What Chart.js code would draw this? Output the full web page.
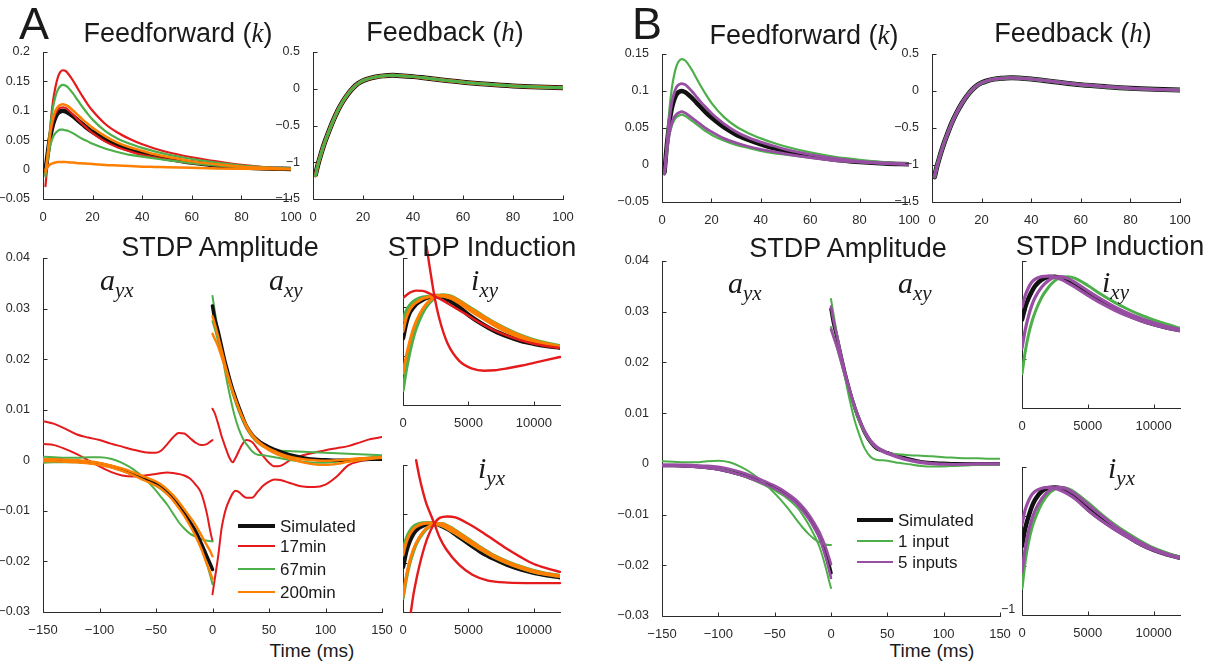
<!DOCTYPE html>
<html><head><meta charset="utf-8">
<script src="https://cdn.jsdelivr.net/npm/chart.js@4"></script>
<style>
html,body{margin:0;padding:0;background:#fff;}
#root{position:relative;width:1216px;height:670px;overflow:hidden;font-family:'Liberation Sans',Arial,sans-serif;color:#1a1a1a;}
.pw{position:absolute;}
.t{position:absolute;white-space:nowrap;line-height:1;z-index:5;}
.ttl{font-size:27px;transform:translateX(-50%);}
.big{font-size:45px;}
.xl{font-size:19px;transform:translateX(-50%);}
.it{font-family:'Liberation Serif','Times New Roman',serif;font-style:italic;}
.sym{font-family:'Liberation Serif','Times New Roman',serif;font-style:italic;font-size:30px;}
.sym span{font-size:21px;position:relative;top:7px;}
.lg{position:absolute;font-size:17px;line-height:1;white-space:nowrap;z-index:5;}
.ll{position:absolute;z-index:5;}
</style></head>
<body><div id="root"></div>
<script>
// ---------------- DATA ----------------
const K_XT = [0,20,40,60,80,100];
const FFA_YT = [-0.05,0,0.05,0.1,0.15,0.2];
const FFB_YT = [-0.05,0,0.05,0.1,0.15];
const FB_YT = [-1.5,-1,-0.5,0,0.5];
const SA_XT = [-150,-100,-50,0,50,100,150];
const SA_YT = [-0.03,-0.02,-0.01,0,0.01,0.02,0.03,0.04];
const I_XT = [0,5000,10000];
const I_YT = [-1,-0.5,0,0.5];

const FF_X = [1,2,3,4,5,6,7,8,9,10,12,14,16,18,20,25,30,35,40,45,50,60,70,80,90,100];
const FFA_SIM  = [-0.003,0.030,0.058,0.077,0.089,0.096,0.099,0.100,0.099,0.097,0.091,0.084,0.077,0.070,0.064,0.051,0.041,0.034,0.028,0.023,0.019,0.012,0.007,0.004,0.002,0.001];
const FFA_17_1 = [-0.028,0.020,0.075,0.115,0.140,0.157,0.166,0.169,0.168,0.164,0.152,0.138,0.124,0.111,0.100,0.078,0.063,0.052,0.043,0.036,0.030,0.021,0.014,0.008,0.004,0.002];
const FFA_17_2 = [-0.010,0.025,0.060,0.082,0.095,0.102,0.105,0.106,0.105,0.102,0.094,0.085,0.077,0.069,0.062,0.048,0.038,0.031,0.025,0.021,0.017,0.011,0.007,0.004,0.002,0.001];
const FFA_67_1 = [-0.012,0.030,0.075,0.105,0.124,0.136,0.142,0.144,0.143,0.140,0.130,0.118,0.106,0.095,0.085,0.066,0.053,0.044,0.037,0.031,0.026,0.018,0.012,0.007,0.004,0.002];
const FFA_67_2 = [-0.008,0.020,0.042,0.055,0.062,0.066,0.068,0.068,0.067,0.066,0.062,0.057,0.052,0.048,0.044,0.036,0.030,0.025,0.022,0.019,0.016,0.011,0.007,0.004,0.002,0.001];
const FFA_200_1 = [-0.005,0.030,0.065,0.087,0.100,0.107,0.110,0.111,0.110,0.108,0.101,0.093,0.085,0.078,0.071,0.057,0.046,0.038,0.032,0.026,0.022,0.014,0.009,0.005,0.003,0.001];
const FFA_200_2 = [0.000,0.005,0.009,0.011,0.012,0.013,0.013,0.013,0.013,0.0125,0.012,0.011,0.0105,0.010,0.0095,0.008,0.007,0.006,0.005,0.0045,0.004,0.003,0.002,0.0015,0.001,0.0005];

const FFB_SIM = [-0.010,0.028,0.057,0.077,0.089,0.096,0.099,0.100,0.099,0.097,0.091,0.084,0.077,0.070,0.064,0.051,0.041,0.034,0.028,0.023,0.019,0.012,0.007,0.004,0.002,0.001];
const FFB_1_1 = [-0.013,0.030,0.075,0.104,0.123,0.135,0.141,0.143,0.142,0.139,0.129,0.117,0.105,0.094,0.084,0.065,0.052,0.043,0.036,0.030,0.025,0.017,0.011,0.007,0.004,0.002];
const FFB_1_2 = [-0.012,0.018,0.040,0.053,0.061,0.065,0.067,0.068,0.067,0.065,0.060,0.055,0.050,0.045,0.041,0.033,0.027,0.023,0.019,0.016,0.014,0.010,0.006,0.004,0.002,0.001];
const FFB_5_1 = [-0.012,0.028,0.062,0.085,0.098,0.106,0.109,0.110,0.109,0.107,0.100,0.092,0.084,0.077,0.070,0.056,0.045,0.037,0.031,0.026,0.021,0.014,0.009,0.005,0.003,0.001];
const FFB_5_2 = [-0.012,0.020,0.043,0.057,0.065,0.069,0.071,0.072,0.071,0.069,0.064,0.059,0.054,0.049,0.045,0.036,0.030,0.025,0.021,0.018,0.015,0.010,0.006,0.004,0.002,0.001];

const FB_X = [1,2,3,4,5,6,8,10,12,14,16,18,20,22,25,28,30,32,35,40,45,50,60,70,80,90,100];
const FBA_SIM = [-1.17,-1.03,-0.91,-0.80,-0.70,-0.61,-0.44,-0.29,-0.17,-0.07,0.01,0.07,0.11,0.135,0.16,0.175,0.18,0.182,0.178,0.165,0.145,0.125,0.088,0.06,0.038,0.024,0.015];
const FBA_FIT = [-1.18,-1.03,-0.91,-0.80,-0.70,-0.61,-0.44,-0.29,-0.17,-0.07,0.01,0.07,0.11,0.135,0.16,0.175,0.18,0.182,0.178,0.165,0.145,0.125,0.088,0.06,0.038,0.024,0.015];
const FBB_SIM = [-1.16,-1.02,-0.90,-0.79,-0.69,-0.60,-0.43,-0.29,-0.17,-0.07,0.01,0.07,0.11,0.135,0.16,0.172,0.176,0.178,0.175,0.162,0.143,0.123,0.085,0.058,0.036,0.022,0.013];
const FBB_FIT = [-1.16,-1.02,-0.90,-0.79,-0.69,-0.60,-0.43,-0.29,-0.17,-0.07,0.01,0.07,0.11,0.135,0.16,0.172,0.176,0.178,0.175,0.162,0.143,0.123,0.085,0.058,0.036,0.022,0.013];

const NEG_X = [-150,-140,-130,-120,-110,-100,-90,-80,-70,-60,-50,-45,-40,-35,-30,-25,-20,-15,-10,-5,-2,0];
const POS_X = [0,2,5,8,10,12,15,18,20,22,25,28,30,35,40,45,50,55,60,70,80,90,100,110,120,130,140,150];

const SA_SIM_N  = [0.0,0.0,-0.0001,-0.0002,-0.0004,-0.0007,-0.0012,-0.0019,-0.0028,-0.0037,-0.0047,-0.0054,-0.0064,-0.0076,-0.009,-0.0105,-0.0122,-0.014,-0.0164,-0.019,-0.0205,-0.0216];
const SA_17_1N  = [0.0077,0.0072,0.0062,0.0051,0.0045,0.004,0.0033,0.0027,0.0021,0.0016,0.0015,0.002,0.0032,0.0045,0.0054,0.0053,0.0044,0.0035,0.003,0.0032,0.0037,0.004];
const SA_17_2N  = [0.0032,0.003,0.0022,0.0012,0.0,-0.0012,-0.0023,-0.003,-0.0032,-0.003,-0.0027,-0.0025,-0.0024,-0.0025,-0.0027,-0.003,-0.0036,-0.0048,-0.0065,-0.0105,-0.014,-0.016];
const SA_67_1N  = [0.0007,0.0006,0.0005,0.0005,0.0006,0.0006,0.0003,-0.0005,-0.0018,-0.0036,-0.006,-0.0074,-0.0088,-0.0105,-0.0122,-0.0135,-0.0145,-0.0151,-0.0156,-0.0159,-0.016,-0.016];
const SA_67_2N  = [-0.0005,-0.0004,-0.0004,-0.0004,-0.0005,-0.0007,-0.0011,-0.0017,-0.0026,-0.0037,-0.005,-0.0058,-0.0067,-0.0078,-0.0091,-0.0108,-0.0127,-0.0148,-0.0172,-0.0205,-0.0228,-0.0245];
const SA_200_1N = [0.0002,0.0002,0.0001,0.0,-0.0002,-0.0005,-0.001,-0.0016,-0.0024,-0.0033,-0.0042,-0.0049,-0.0058,-0.0069,-0.0082,-0.0097,-0.0112,-0.0128,-0.0148,-0.0168,-0.018,-0.019];
const SA_200_2N = [-0.0002,-0.0002,-0.0003,-0.0004,-0.0006,-0.0009,-0.0014,-0.0021,-0.003,-0.004,-0.005,-0.0057,-0.0067,-0.0079,-0.0094,-0.011,-0.0129,-0.015,-0.0175,-0.0205,-0.0222,-0.0235];

const SA_SIM_P  = [0.0305,0.028,0.0255,0.0225,0.0205,0.0187,0.0162,0.0139,0.0126,0.0113,0.0095,0.0078,0.0068,0.0051,0.004,0.0032,0.0026,0.0021,0.0017,0.001,0.0005,0.0002,0.0001,0.0,0.0,0.0001,0.0002,0.0002];
const SA_17_1P  = [0.0102,0.0093,0.0072,0.0048,0.0035,0.0022,0.0005,-0.0004,0.0003,0.0012,0.0026,0.0037,0.004,0.0036,0.0022,0.0008,-0.0005,-0.0012,-0.0011,0.0002,0.001,0.0015,0.002,0.0024,0.0028,0.0035,0.0042,0.0046];
const SA_17_2P  = [-0.0265,-0.0235,-0.019,-0.0135,-0.0112,-0.0095,-0.0078,-0.0065,-0.006,-0.0061,-0.0066,-0.0072,-0.0074,-0.0074,-0.0062,-0.005,-0.0042,-0.0038,-0.0039,-0.0046,-0.0052,-0.0053,-0.0048,-0.0032,-0.001,-0.0002,0.0001,0.0003];
const SA_67_1P  = [0.0325,0.0295,0.0255,0.0215,0.019,0.0165,0.0132,0.0102,0.0085,0.007,0.0052,0.0038,0.0032,0.0018,0.0011,0.001,0.0008,0.0006,0.0004,0.0,-0.0003,-0.0005,-0.0005,-0.0003,0.0,0.0003,0.0006,0.0008];
const SA_67_2P  = [0.0275,0.026,0.0235,0.021,0.0193,0.0177,0.0153,0.013,0.0117,0.0104,0.0087,0.0072,0.0063,0.0046,0.0034,0.0027,0.0022,0.002,0.0019,0.0018,0.0017,0.0016,0.0015,0.0014,0.0013,0.0012,0.0011,0.001];
const SA_200_1P = [0.0285,0.027,0.0245,0.0218,0.02,0.0182,0.0158,0.0136,0.0123,0.011,0.0092,0.0076,0.0066,0.0048,0.0036,0.0027,0.002,0.0014,0.0009,0.0002,-0.0004,-0.0008,-0.0009,-0.0007,-0.0003,0.0,0.0003,0.0005];
const SA_200_2P = [0.025,0.024,0.0225,0.0205,0.0191,0.0176,0.0154,0.0134,0.0122,0.011,0.0093,0.0078,0.0069,0.0051,0.0039,0.003,0.0023,0.0018,0.0013,0.0006,0.0002,0.0,-0.0001,0.0,0.0002,0.0004,0.0005,0.0006];

const SB_SIM_N = [-0.0003,-0.0003,-0.0004,-0.0005,-0.0007,-0.001,-0.0015,-0.0021,-0.0029,-0.0038,-0.0048,-0.0054,-0.006,-0.0068,-0.0077,-0.0089,-0.0104,-0.0122,-0.0144,-0.0175,-0.0198,-0.0215];
const SB_1_1N  = [0.0005,0.0004,0.0003,0.0003,0.0005,0.0006,0.0003,-0.0006,-0.0019,-0.0037,-0.0058,-0.007,-0.0083,-0.0097,-0.0112,-0.0126,-0.0138,-0.0148,-0.0155,-0.0159,-0.016,-0.016];
const SB_1_2N  = [-0.0003,-0.0003,-0.0004,-0.0005,-0.0007,-0.001,-0.0015,-0.0022,-0.0031,-0.0041,-0.0052,-0.0059,-0.0066,-0.0075,-0.0086,-0.0101,-0.0119,-0.014,-0.0165,-0.0202,-0.0228,-0.0245];
const SB_5_1N  = [-0.0002,-0.0002,-0.0002,-0.0003,-0.0004,-0.0006,-0.001,-0.0016,-0.0024,-0.0033,-0.0043,-0.0049,-0.0056,-0.0064,-0.0073,-0.0085,-0.0099,-0.0116,-0.0136,-0.0163,-0.0183,-0.0198];
const SB_5_2N  = [-0.0004,-0.0004,-0.0005,-0.0006,-0.0008,-0.0011,-0.0016,-0.0022,-0.003,-0.0039,-0.0049,-0.0055,-0.0062,-0.007,-0.008,-0.0093,-0.0108,-0.0126,-0.0148,-0.0182,-0.0207,-0.0225];

const SB_SIM_P = [0.0305,0.028,0.0252,0.0222,0.0202,0.0183,0.0157,0.0133,0.0119,0.0105,0.0087,0.0071,0.0061,0.0043,0.0031,0.0026,0.0022,0.0018,0.0015,0.0009,0.0004,0.0002,0.0001,0.0,0.0,0.0,0.0,0.0];
const SB_1_1P  = [0.0325,0.0298,0.026,0.0222,0.0198,0.0175,0.0142,0.0112,0.0094,0.0078,0.0058,0.004,0.003,0.0014,0.0008,0.0007,0.0006,0.0004,0.0002,-0.0001,-0.0004,-0.0005,-0.0005,-0.0004,-0.0003,-0.0002,-0.0002,-0.0002];
const SB_1_2P  = [0.027,0.0255,0.0232,0.0207,0.019,0.0174,0.015,0.0127,0.0114,0.0101,0.0084,0.0069,0.006,0.0043,0.0032,0.0025,0.0021,0.002,0.0019,0.0017,0.0016,0.0015,0.0013,0.0012,0.0011,0.0011,0.001,0.001];
const SB_5_1P  = [0.031,0.0285,0.0255,0.0224,0.0204,0.0185,0.0159,0.0135,0.0121,0.0107,0.0089,0.0072,0.0062,0.0044,0.0032,0.0025,0.002,0.0016,0.0012,0.0006,0.0002,0.0,-0.0001,-0.0001,0.0,0.0,0.0,0.0];
const SB_5_2P  = [0.0265,0.0252,0.0232,0.021,0.0194,0.0178,0.0155,0.0133,0.012,0.0107,0.009,0.0074,0.0065,0.0047,0.0035,0.0028,0.0022,0.0018,0.0014,0.0008,0.0004,0.0001,0.0,-0.0001,-0.0001,0.0,0.0,0.0];

const I_X = [0,250,500,750,1000,1500,2000,2500,3000,3500,4000,5000,6000,7000,8000,9000,10000,11000,12000];
const IXYA_SIM   = [-0.32,-0.16,-0.06,-0.01,0.03,0.075,0.1,0.112,0.106,0.07,0.03,-0.08,-0.17,-0.245,-0.3,-0.345,-0.375,-0.398,-0.415];
const IXYA_17_1  = [0.09,0.12,0.145,0.16,0.167,0.165,0.14,0.105,0.07,0.03,-0.01,-0.09,-0.17,-0.24,-0.295,-0.34,-0.375,-0.4,-0.42];
const IXYA_17_2X = [1800,2000,2200,2400,2800,3400,4300,5300,6200,7000,8000,9000,10000,11000,12000];
const IXYA_17_2  = [0.62,0.44,0.27,0.11,-0.13,-0.37,-0.55,-0.63,-0.65,-0.645,-0.625,-0.6,-0.57,-0.54,-0.51];
const IXYA_67_1  = [-0.135,-0.04,0.015,0.05,0.075,0.1,0.11,0.115,0.115,0.1,0.075,-0.01,-0.09,-0.17,-0.24,-0.3,-0.345,-0.38,-0.405];
const IXYA_67_2  = [-0.85,-0.64,-0.47,-0.33,-0.22,-0.06,0.04,0.1,0.122,0.115,0.09,0.005,-0.08,-0.16,-0.23,-0.29,-0.335,-0.37,-0.395];
const IXYA_200_1 = [-0.25,-0.11,-0.03,0.015,0.045,0.085,0.105,0.113,0.112,0.095,0.065,-0.025,-0.11,-0.19,-0.26,-0.315,-0.355,-0.385,-0.41];
const IXYA_200_2 = [-0.676,-0.5,-0.36,-0.24,-0.15,-0.02,0.06,0.105,0.12,0.11,0.085,0.0,-0.085,-0.165,-0.235,-0.295,-0.34,-0.375,-0.4];

const IYXA_SIM   = [-0.54,-0.38,-0.28,-0.21,-0.165,-0.12,-0.103,-0.103,-0.125,-0.16,-0.205,-0.3,-0.39,-0.46,-0.52,-0.565,-0.6,-0.625,-0.645];
const IYXA_17_1X = [1000,1250,1500,1800,2100,2400,2800,3300,4300,5300,6500,8000,10000,12000];
const IYXA_17_1  = [0.55,0.38,0.24,0.1,0.0,-0.1,-0.24,-0.36,-0.52,-0.62,-0.68,-0.7,-0.705,-0.705];
const IYXA_17_2X = [600,800,1000,1250,1500,1800,2100,2400,2800,3400,4000,5000,6000,7000,8000,9000,10000,11000,12000];
const IYXA_17_2  = [-1.0,-0.82,-0.68,-0.53,-0.4,-0.27,-0.17,-0.095,-0.04,-0.025,-0.035,-0.1,-0.18,-0.27,-0.36,-0.44,-0.51,-0.555,-0.59];
const IYXA_67_1  = [-0.37,-0.25,-0.18,-0.135,-0.11,-0.09,-0.088,-0.1,-0.12,-0.155,-0.195,-0.28,-0.365,-0.44,-0.5,-0.55,-0.59,-0.615,-0.635];
const IYXA_67_2  = [-0.86,-0.66,-0.51,-0.4,-0.31,-0.2,-0.13,-0.1,-0.1,-0.128,-0.167,-0.257,-0.347,-0.427,-0.488,-0.538,-0.578,-0.608,-0.628];
const IYXA_200_1 = [-0.42,-0.29,-0.21,-0.16,-0.13,-0.1,-0.092,-0.1,-0.122,-0.157,-0.197,-0.283,-0.368,-0.443,-0.503,-0.553,-0.592,-0.618,-0.638];
const IYXA_200_2 = [-0.84,-0.64,-0.49,-0.38,-0.3,-0.19,-0.125,-0.098,-0.1,-0.13,-0.17,-0.26,-0.35,-0.43,-0.49,-0.54,-0.58,-0.61,-0.63];

const IXYB_SIM = [-0.1,0.03,0.12,0.19,0.245,0.31,0.337,0.34,0.325,0.295,0.255,0.17,0.09,0.02,-0.045,-0.1,-0.145,-0.18,-0.205];
const IXYB_1   = [-0.65,-0.42,-0.25,-0.12,-0.02,0.13,0.23,0.3,0.335,0.34,0.325,0.25,0.16,0.08,0.01,-0.05,-0.1,-0.145,-0.185];
const IXYB_5_1 = [0.03,0.15,0.23,0.285,0.315,0.34,0.345,0.335,0.31,0.275,0.235,0.15,0.07,0.0,-0.06,-0.11,-0.15,-0.185,-0.21];
const IXYB_5_2 = [-0.39,-0.2,-0.06,0.05,0.13,0.235,0.3,0.335,0.34,0.32,0.285,0.195,0.11,0.035,-0.03,-0.085,-0.13,-0.17,-0.2];

const IYXB_SIM = [-0.3,-0.12,0.0,0.1,0.17,0.255,0.285,0.293,0.28,0.245,0.2,0.075,-0.03,-0.12,-0.2,-0.28,-0.34,-0.385,-0.42];
const IYXB_1   = [-0.73,-0.45,-0.26,-0.12,-0.02,0.13,0.225,0.275,0.293,0.28,0.245,0.14,0.025,-0.08,-0.17,-0.25,-0.32,-0.37,-0.415];
const IYXB_5_1 = [-0.08,0.07,0.16,0.22,0.255,0.285,0.293,0.285,0.26,0.225,0.18,0.065,-0.04,-0.13,-0.21,-0.285,-0.345,-0.39,-0.425];
const IYXB_5_2 = [-0.56,-0.32,-0.15,-0.03,0.06,0.18,0.255,0.288,0.293,0.27,0.23,0.12,0.01,-0.095,-0.185,-0.265,-0.33,-0.38,-0.42];

// ---------------- DRAWING ----------------
const BLK='#111111', RED='#e41a1c', GRN='#4daf4a', ORG='#ff7f00', PUR='#984ea3';
const root = document.getElementById('root');
Chart.defaults.font.family = "'Liberation Sans', Arial, sans-serif";
Chart.defaults.font.size = 12;
Chart.defaults.color = '#2a2a2a';

const mAxes = {
  id:'mAxes',
  beforeDatasetsDraw(chart){
    const {ctx, chartArea:a, scales:{x,y}} = chart;
    ctx.save(); ctx.strokeStyle='#2a2a2a'; ctx.lineWidth=1;
    ctx.beginPath();
    const L = Math.round(a.left)+0.5, B = Math.round(a.bottom)+0.5;
    ctx.moveTo(L, Math.round(a.top)); ctx.lineTo(L, B); ctx.lineTo(Math.round(a.right)+1, B);
    x.ticks.forEach(t=>{const p=Math.round(x.getPixelForValue(t.value))+0.5; ctx.moveTo(p,B); ctx.lineTo(p,B-4);});
    y.ticks.forEach(t=>{const p=Math.round(y.getPixelForValue(t.value))+0.5; ctx.moveTo(L,p); ctx.lineTo(L+4,p);});
    ctx.stroke(); ctx.restore();
  }
};
const fmt = v => v<0 ? '\u2212'+String(-v) : String(v);

function ds(xs, ys, color, w, extra){
  return Object.assign({data: xs.map((x,i)=>({x:x, y:ys[i]})), borderColor: color, borderWidth: w,
    pointRadius:0, fill:false, cubicInterpolationMode:'monotone', borderCapStyle:'round', borderJoinStyle:'round'}, extra||{});
}

const YW=60, XH=24, PR=30;
function panel(box, o){
  const pt = o.pt || 16;
  const W = box.w + YW + PR, H = box.h + pt + XH;
  const wrap = document.createElement('div');
  wrap.className='pw';
  wrap.style.left=(box.l-YW)+'px'; wrap.style.top=(box.t-pt)+'px';
  wrap.style.width=W+'px'; wrap.style.height=H+'px';
  const cv=document.createElement('canvas'); cv.width=W; cv.height=H;
  cv.style.width=W+'px'; cv.style.height=H+'px';
  wrap.appendChild(cv); root.appendChild(wrap);
  new Chart(cv, {
    type:'line',
    data:{datasets:o.datasets},
    options:{
      responsive:false, animation:false, devicePixelRatio:1,
      layout:{padding:{top:pt, right:PR, left:0, bottom:0}},
      plugins:{legend:{display:false}, tooltip:{enabled:false}},
      scales:{
        x:{type:'linear', min:o.xmin, max:o.xmax, grid:{display:false}, border:{display:false},
           ticks:{autoSkip:false, maxRotation:0, padding:3, font:{size:13}, callback:fmt},
           afterBuildTicks(s){ s.ticks = o.xt.map(v=>({value:v})); },
           afterFit(s){ s.height = XH; }},
        y:{type:'linear', min:o.ymin, max:o.ymax, grid:{display:false}, border:{display:false},
           ticks:{autoSkip:false, padding:5, font:{size:12.5}, display: o.ylab!==false, callback:fmt},
           afterBuildTicks(s){ s.ticks = o.yt.map(v=>({value:v})); },
           afterFit(s){ s.width = YW; }}
      }
    },
    plugins:[mAxes]
  });
}

// Feedforward A
panel({l:43,t:52,w:248,h:147},{xmin:0,xmax:100,ymin:-0.05,ymax:0.2,xt:K_XT,yt:FFA_YT,datasets:[
  ds(FF_X,FFA_200_1,ORG,2.5), ds(FF_X,FFA_200_2,ORG,2.5),
  ds(FF_X,FFA_67_1,GRN,2.2), ds(FF_X,FFA_67_2,GRN,2.2),
  ds(FF_X,FFA_17_1,RED,2.2), ds(FF_X,FFA_17_2,RED,2.2),
  ds(FF_X,FFA_SIM,BLK,4.5)]});
// Feedback A
panel({l:313,t:52,w:250,h:147},{xmin:0,xmax:100,ymin:-1.5,ymax:0.5,xt:K_XT,yt:FB_YT,datasets:[
  ds(FB_X,FBA_FIT,GRN,3), ds(FB_X,FBA_FIT,ORG,3), ds(FB_X,FBA_FIT,RED,3.4),
  ds(FB_X,FBA_SIM,BLK,5)]});
// Feedforward B
panel({l:662,t:54,w:247,h:148},{xmin:0,xmax:100,ymin:-0.05,ymax:0.15,xt:K_XT,yt:FFB_YT,datasets:[
  ds(FF_X,FFB_5_1,PUR,2.8), ds(FF_X,FFB_5_2,PUR,2.8),
  ds(FF_X,FFB_1_1,GRN,2.2), ds(FF_X,FFB_1_2,GRN,2.2),
  ds(FF_X,FFB_SIM,BLK,4.5)]});
// Feedback B
panel({l:932,t:54,w:248,h:148},{xmin:0,xmax:100,ymin:-1.5,ymax:0.5,xt:K_XT,yt:FB_YT,datasets:[
  ds(FB_X,FBB_FIT,PUR,3.2), ds(FB_X,FBB_FIT,GRN,3.4),
  ds(FB_X,FBB_SIM,BLK,5)]});

// STDP amplitude A
panel({l:43,t:258,w:339,h:354},{xmin:-150,xmax:150,ymin:-0.03,ymax:0.04,xt:SA_XT,yt:SA_YT,datasets:[
  ds(NEG_X,SA_200_1N,ORG,2.4), ds(NEG_X,SA_200_2N,ORG,2.4),
  ds(POS_X,SA_200_1P,ORG,2.4), ds(POS_X,SA_200_2P,ORG,2.4),
  ds(NEG_X,SA_SIM_N,BLK,3.5), ds(POS_X,SA_SIM_P,BLK,3.5),
  ds(NEG_X,SA_67_1N,GRN,2), ds(NEG_X,SA_67_2N,GRN,2),
  ds(POS_X,SA_67_1P,GRN,2), ds(POS_X,SA_67_2P,GRN,2),
  ds(NEG_X,SA_17_1N,RED,2), ds(NEG_X,SA_17_2N,RED,2),
  ds(POS_X,SA_17_1P,RED,2), ds(POS_X,SA_17_2P,RED,2)]});
// STDP amplitude B
panel({l:662,t:261,w:338,h:355},{xmin:-150,xmax:150,ymin:-0.03,ymax:0.04,xt:SA_XT,yt:SA_YT,datasets:[
  ds(NEG_X,SB_5_1N,PUR,2.6), ds(NEG_X,SB_5_2N,PUR,2.6),
  ds(POS_X,SB_5_1P,PUR,2.6), ds(POS_X,SB_5_2P,PUR,2.6),
  ds(NEG_X,SB_1_1N,GRN,2), ds(NEG_X,SB_1_2N,GRN,2),
  ds(POS_X,SB_1_1P,GRN,2), ds(POS_X,SB_1_2P,GRN,2),
  ds(NEG_X,SB_SIM_N,BLK,3.5), ds(POS_X,SB_SIM_P,BLK,3.5)]});

// Induction A
panel({l:403,t:258,w:157,h:147},{pt:24,xmin:0,xmax:12000,ymin:-1,ymax:0.5,xt:I_XT,yt:I_YT,ylab:false,datasets:[
  ds(IXYA_17_2X,IXYA_17_2,RED,2.4,{clip:false}), ds(I_X,IXYA_17_1,RED,2.4),
  ds(I_X,IXYA_200_1,ORG,3), ds(I_X,IXYA_200_2,ORG,3),
  ds(I_X,IXYA_67_1,GRN,3.4), ds(I_X,IXYA_67_2,GRN,3.4),
  ds(I_X,IXYA_SIM,BLK,4.5)]});
panel({l:403,t:465,w:157,h:147},{pt:24,xmin:0,xmax:12000,ymin:-1,ymax:0.5,xt:I_XT,yt:I_YT,ylab:false,datasets:[
  ds(IYXA_17_1X,IYXA_17_1,RED,2.4,{clip:false}), ds(IYXA_17_2X,IYXA_17_2,RED,2.4,{clip:false}),
  ds(I_X,IYXA_200_1,ORG,3), ds(I_X,IYXA_200_2,ORG,3),
  ds(I_X,IYXA_67_1,GRN,3.4), ds(I_X,IYXA_67_2,GRN,3.4),
  ds(I_X,IYXA_SIM,BLK,4.5)]});
// Induction B
panel({l:1022,t:261,w:158,h:147},{pt:20,xmin:0,xmax:12000,ymin:-1,ymax:0.5,xt:I_XT,yt:I_YT,ylab:false,datasets:[
  ds(I_X,IXYB_5_1,PUR,3.2), ds(I_X,IXYB_5_2,PUR,3.2),
  ds(I_X,IXYB_1,GRN,3),
  ds(I_X,IXYB_SIM,BLK,4.5)]});
panel({l:1022,t:467,w:158,h:148},{pt:20,xmin:0,xmax:12000,ymin:-1,ymax:0.5,xt:I_XT,yt:I_YT,ylab:false,datasets:[
  ds(I_X,IYXB_5_1,PUR,3.2), ds(I_X,IYXB_5_2,PUR,3.2),
  ds(I_X,IYXB_1,GRN,3),
  ds(I_X,IYXB_SIM,BLK,4.5)]});

// ---------------- TEXT ----------------
function txt(html, cls, left, top){
  const d=document.createElement('div'); d.className='t '+cls; d.innerHTML=html;
  d.style.left=left+'px'; d.style.top=top+'px'; root.appendChild(d); return d;
}
txt('A','big',19,1);
txt('B','big',632,1);
txt('Feedforward (<span class="it">k</span>)','ttl',178,19.5);
txt('Feedback (<span class="it">h</span>)','ttl',445,18.5);
txt('Feedforward (<span class="it">k</span>)','ttl',804,21.5);
txt('Feedback (<span class="it">h</span>)','ttl',1073,19.5);
txt('STDP Amplitude','ttl',220,233.5);
txt('STDP Induction','ttl',482,233.5);
txt('STDP Amplitude','ttl',848,234.5);
txt('STDP Induction','ttl',1110,233);
txt('Time (ms)','xl',312,640.5);
txt('Time (ms)','xl',932,640.5);
txt('a<span>yx</span>','sym',100,265);
txt('a<span>xy</span>','sym',269,265);
txt('a<span>yx</span>','sym',728,268);
txt('a<span>xy</span>','sym',898,268);
txt('i<span>xy</span>','sym',471,265);
txt('i<span>yx</span>','sym',478,453);
txt('i<span>xy</span>','sym',1102,267);
txt('i<span>yx</span>','sym',1108,453);
const m1 = txt('\u22121','',1001,603); m1.style.fontSize='12.5px'; m1.style.color='#2a2a2a';

// Legends
function legend(items, x0, x1, tx){
  items.forEach(it=>{
    const l=document.createElement('div'); l.className='ll';
    l.style.left=x0+'px'; l.style.width=(x1-x0)+'px';
    l.style.top=(it[3]-it[2]/2)+'px'; l.style.height=it[2]+'px'; l.style.background=it[1];
    root.appendChild(l);
    const t=document.createElement('div'); t.className='lg'; t.textContent=it[0];
    t.style.left=tx+'px'; t.style.top=(it[3]-8.5)+'px'; root.appendChild(t);
  });
}
legend([['Simulated',BLK,4,526],['17min',RED,2,546],['67min',GRN,2,569],['200min',ORG,2.5,592]],238,275,280);
legend([['Simulated',BLK,4,520],['1 input',GRN,2,541],['5 inputs',PUR,2.5,562]],857,893,898);
</script>
</body></html>
